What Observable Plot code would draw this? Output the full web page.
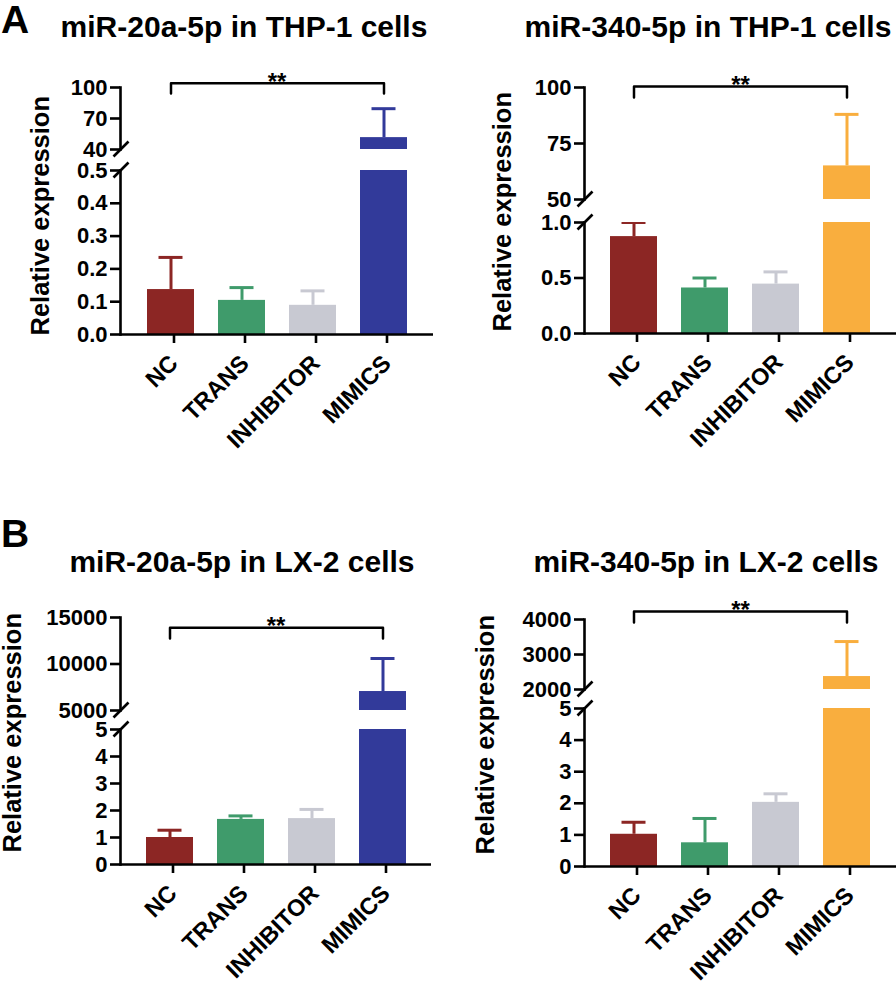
<!DOCTYPE html>
<html><head><meta charset="utf-8">
<script src="https://cdn.jsdelivr.net/npm/d3@7"></script>
<script src="https://cdn.jsdelivr.net/npm/@observablehq/plot@0.6"></script>
<style>
body{margin:0;background:#fff;}
#fig{position:relative;width:896px;height:988px;overflow:hidden;background:#fff;font-family:"Liberation Sans",Arial,Helvetica,sans-serif;font-weight:bold;color:#000;}
.abs{position:absolute;white-space:nowrap;}
#fig svg{position:absolute;}
</style></head><body><div id="fig"></div>
<script>
// ---------- data ----------
const groups = ["NC", "TRANS", "INHIBITOR", "MIMICS"];
const groupColors = ["#8c2624", "#3f9b6b", "#c8c9d2"];
const mimicsColors = ["#323a9a", "#f9ae3e"];
const panelLetters = ["A", "B"];
const panelTitles = ["miR-20a-5p in THP-1 cells", "miR-340-5p in THP-1 cells", "miR-20a-5p in LX-2 cells", "miR-340-5p in LX-2 cells"];
const yTitle = "Relative expression";

const thp20Mean = [0.137, 0.104, 0.089, 51.5];
const thp20Sd = [0.098, 0.039, 0.044, 28];
const thp340Mean = [0.873, 0.41, 0.445, 65];
const thp340Sd = [0.127, 0.09, 0.11, 23];
const lx20Mean = [1.0, 1.67, 1.70, 7040];
const lx20Sd = [0.27, 0.13, 0.34, 3550];
const lx340Mean = [1.02, 0.75, 2.03, 2370];
const lx340Sd = [0.38, 0.77, 0.27, 1000];

const thp20TopTicks = [40, 70, 100];
const thp20BottomTicks = [0, 0.1, 0.2, 0.3, 0.4, 0.5];
const thp340TopTicks = [50, 75, 100];
const thp340BottomTicks = [0, 0.5, 1.0];
const lx20TopTicks = [5000, 10000, 15000];
const lx20BottomTicks = [0, 1, 2, 3, 4, 5];
const lx340TopTicks = [2000, 3000, 4000];
const lx340BottomTicks = [0, 1, 2, 3, 4, 5];

const significance = "**";
const bracketTop = [104, 100.5, 13900, 4230];
const bracketLeg = [94.2, 95.5, 12750, 3915];

// ---------- layout ----------
const fig = document.getElementById("fig");
const FONT = "'Liberation Sans', Arial, Helvetica, sans-serif";

function addText(txt, fs, cx, baseline, opts = {}) {
  const d = document.createElement("div");
  d.className = "abs";
  d.textContent = txt;
  d.style.fontSize = fs + "px";
  d.style.lineHeight = fs + "px";
  const w = 600;
  if (opts.left != null) {
    d.style.left = opts.left + "px";
  } else {
    d.style.left = (cx - w / 2) + "px";
    d.style.width = w + "px";
    d.style.textAlign = "center";
  }
  d.style.top = (baseline - 0.8465 * fs) + "px";
  fig.appendChild(d);
}
function addYTitle(txt, fs, cx, cy) {
  const d = document.createElement("div");
  d.className = "abs";
  d.textContent = txt;
  const w = 400;
  d.style.fontSize = fs + "px";
  d.style.lineHeight = fs + "px";
  d.style.width = w + "px";
  d.style.textAlign = "center";
  const cxl = cx - 0.087 * fs;
  d.style.left = (cxl - w / 2) + "px";
  d.style.top = (cy - fs / 2) + "px";
  d.style.transform = "rotate(-90deg)";
  d.style.transformOrigin = "50% 50%";
  fig.appendChild(d);
}

function axisBreak(value) {
  return (index, scales, values, dimensions) => {
    const y = scales.y(value);
    const x = dimensions.marginLeft + 1;
    const l = document.createElementNS("http://www.w3.org/2000/svg", "line");
    l.setAttribute("x1", x - 7.5); l.setAttribute("y1", y + 7.5);
    l.setAttribute("x2", x + 7.5); l.setAttribute("y2", y - 7.5);
    l.setAttribute("stroke", "black"); l.setAttribute("stroke-width", 2.6);
    return l;
  };
}

const plotStyle = {fontFamily: FONT, fontWeight: "bold", fontSize: "22px", color: "black", background: "transparent", overflow: "visible"};

function place(svg, left, top) {
  svg.style.left = left + "px";
  svg.style.top = top + "px";
  fig.appendChild(svg);
}

function panel(cfg) {
  const data = groups.map((g, i) => ({
    group: g, mean: cfg.mean[i], sd: cfg.sd[i],
    color: i < 3 ? groupColors[i] : cfg.mimicsColor
  }));
  const xScale = {domain: groups, paddingInner: 0.345, paddingOuter: 0.36, axis: null, label: null};
  const mL = cfg.fx0 - cfg.left, mR = cfg.left + 448 - cfg.fx1;
  const barMarks = [
    Plot.barY(data, {x: "group", y: "mean", fill: "color", clip: true}),
    Plot.ruleX(data, {x: "group", y1: "mean", y2: d => d.mean + d.sd, stroke: "color", strokeWidth: 3, clip: true}),
    Plot.tickY(data, {x: "group", y: d => d.mean + d.sd, stroke: "color", strokeWidth: 3, insetLeft: 11.5, insetRight: 11.5, clip: true})
  ];
  // top segment
  const bracket = [
    {x: "NC", y: cfg.bracketLeg}, {x: "NC", y: cfg.bracketTop},
    {x: "MIMICS", y: cfg.bracketTop}, {x: "MIMICS", y: cfg.bracketLeg}
  ];
  const topSvgTop = cfg.topSvg;
  const top = Plot.plot({
    width: 448,
    height: cfg.topMinPx + 14 - topSvgTop,
    marginLeft: mL, marginRight: mR,
    marginTop: cfg.topMaxPx - topSvgTop, marginBottom: 14,
    x: xScale,
    y: {domain: [cfg.topTicks[0], cfg.topTicks[cfg.topTicks.length - 1]], axis: null, label: null},
    color: {type: "identity"},
    style: plotStyle,
    marks: [
      ...barMarks,
      Plot.frame({anchor: "left", strokeWidth: 2.6}),
      Plot.axisY({ticks: cfg.topTicks, label: null, tickSize: 10, tickPadding: 3, strokeWidth: 2.6, fontSize: 22, tickFormat: d3.format("d")}),
      axisBreak(cfg.topTicks[0]),
      Plot.line(bracket, {x: "x", y: "y", strokeWidth: 2.5, stroke: "black"}),
      Plot.text([cfg.bracketTop], {y: d => d, frameAnchor: "middle", text: () => significance, fontSize: 24, dy: -1, lineAnchor: "middle"})
    ]
  });
  place(top, cfg.left, topSvgTop);
  // bottom segment
  const botSvgTop = cfg.botMaxPx - 14;
  const mB = 120;
  const bottom = Plot.plot({
    width: 448,
    height: cfg.botMinPx - botSvgTop + mB,
    marginLeft: mL, marginRight: mR,
    marginTop: 14, marginBottom: mB,
    x: xScale,
    y: {domain: [cfg.botTicks[0], cfg.botTicks[cfg.botTicks.length - 1]], axis: null, label: null},
    color: {type: "identity"},
    style: plotStyle,
    marks: [
      ...barMarks,
      Plot.frame({anchor: "left", strokeWidth: 2.6}),
      Plot.ruleY([cfg.botTicks[0]], {strokeWidth: 2.6}),
      Plot.axisY({ticks: cfg.botTicks, label: null, tickSize: 10, tickPadding: 3, strokeWidth: 2.6, fontSize: 22, tickFormat: cfg.botFormat}),
      Plot.axisX({label: null, tickRotate: -45, tickSize: 9, tickPadding: 16, dx: 3, strokeWidth: 2.6, fontSize: 23.5}),
      axisBreak(cfg.botTicks[cfg.botTicks.length - 1])
    ]
  });
  place(bottom, cfg.left, botSvgTop);
  addText(cfg.title, 30, cfg.titleCx, cfg.titleBase);
  addYTitle(yTitle, 25.5, cfg.yTitleCx, cfg.yTitleCy);
}

const f1 = d3.format(".1f"), fd = d3.format("d");
panel({left: 0, fx0: 120, fx1: 433, topSvg: 45, topMaxPx: 87, topMinPx: 149, botMaxPx: 170, botMinPx: 334,
  mean: thp20Mean, sd: thp20Sd, topTicks: thp20TopTicks, botTicks: thp20BottomTicks, botFormat: f1,
  mimicsColor: mimicsColors[0], bracketTop: bracketTop[0], bracketLeg: bracketLeg[0],
  title: panelTitles[0], titleCx: 244, titleBase: 37, yTitleCx: 43, yTitleCy: 216});
panel({left: 448, fx0: 584, fx1: 896, topSvg: 45, topMaxPx: 87, topMinPx: 199, botMaxPx: 222, botMinPx: 333,
  mean: thp340Mean, sd: thp340Sd, topTicks: thp340TopTicks, botTicks: thp340BottomTicks, botFormat: f1,
  mimicsColor: mimicsColors[1], bracketTop: bracketTop[1], bracketLeg: bracketLeg[1],
  title: panelTitles[1], titleCx: 708, titleBase: 37, yTitleCx: 505, yTitleCy: 212});
panel({left: 0, fx0: 120, fx1: 431, topSvg: 580, topMaxPx: 617, topMinPx: 710, botMaxPx: 729, botMinPx: 864,
  mean: lx20Mean, sd: lx20Sd, topTicks: lx20TopTicks, botTicks: lx20BottomTicks, botFormat: fd,
  mimicsColor: mimicsColors[0], bracketTop: bracketTop[2], bracketLeg: bracketLeg[2],
  title: panelTitles[2], titleCx: 242, titleBase: 572, yTitleCx: 15.5, yTitleCy: 733});
panel({left: 448, fx0: 584, fx1: 896, topSvg: 580, topMaxPx: 619, topMinPx: 689, botMaxPx: 708, botMinPx: 866,
  mean: lx340Mean, sd: lx340Sd, topTicks: lx340TopTicks, botTicks: lx340BottomTicks, botFormat: fd,
  mimicsColor: mimicsColors[1], bracketTop: bracketTop[3], bracketLeg: bracketLeg[3],
  title: panelTitles[3], titleCx: 706, titleBase: 572, yTitleCx: 488, yTitleCy: 735});

addText(panelLetters[0], 39, 0, 33, {left: 1});
addText(panelLetters[1], 39, 0, 547, {left: 1});
</script></body></html>
